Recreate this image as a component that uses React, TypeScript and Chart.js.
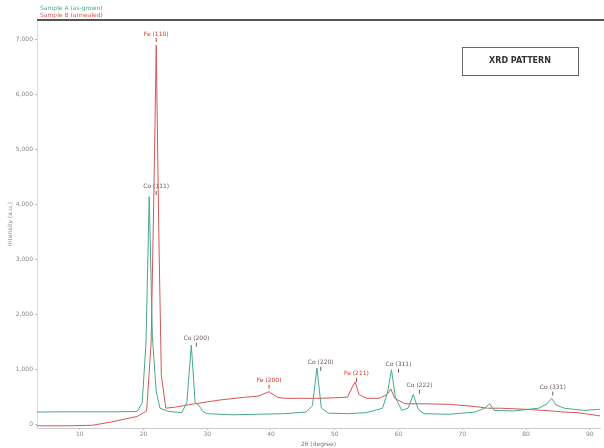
import React, { useEffect, useRef } from "react";
import { Chart, registerables } from "chart.js";

Chart.register(...registerables);

const seriesNames = ["Sample A (as-grown)", "Sample B (annealed)"];
const seriesColors = ["rgb(72,168,140)", "rgb(214,86,86)"];

const greenX = [3.3, 8, 12, 16, 19, 19.8, 20.4, 20.9, 21.4, 22, 22.6, 24, 26, 26.8, 27.5, 28.1, 28.7, 29.3, 30, 34, 38, 42, 45.5, 46.5, 47.2, 47.9, 49, 52, 55, 57.5, 58.3, 58.9, 59.5, 60.5, 61.5, 62.3, 63.1, 64, 68, 72, 73.5, 74.3, 75, 78, 82, 83.3, 84, 84.7, 86, 89, 91.6];
const greenY = [230, 235, 235, 235, 240, 400, 1500, 4150, 1600, 600, 300, 240, 220, 400, 1450, 400, 350, 240, 200, 180, 190, 200, 230, 350, 1030, 300, 210, 200, 220, 300, 600, 1000, 500, 260, 300, 550, 280, 200, 190, 230, 300, 380, 260, 250, 300, 380, 480, 360, 300, 260, 280];

const redX = [3.3, 8, 12, 15, 17, 19, 20.5, 21.2, 21.6, 22.0, 22.4, 22.8, 23.5, 25, 28, 32, 36, 38, 39.7, 41, 42, 44, 48, 50, 52, 52.6, 53.2, 53.8, 55, 57, 58.2, 58.8, 59.4, 61, 64, 68, 72, 74, 76, 80, 84, 86, 88, 91.6];
const redY = [-20, -20, -10, 50, 100, 150, 250, 1500, 4000, 6900, 3500, 900, 300, 320, 380, 450, 500, 520, 600, 500, 480, 480, 480, 490, 500, 650, 780, 550, 480, 480, 550, 650, 480, 380, 380, 370, 330, 300, 300, 280, 250, 230, 220, 160];

const xTicks = [10, 20, 30, 40, 50, 60, 70, 80, 90];
const yTicks = [0, 1000, 2000, 3000, 4000, 5000, 6000, 7000];

const peakText = ["Fe (110)", "Co (111)", "Co (200)", "Fe (200)", "Co (220)", "Fe (211)", "Co (311)", "Co (222)", "Co (331)"];
const peakX = [22.0, 22.0, 28.3, 39.7, 47.8, 53.4, 60.0, 63.3, 84.2];
const peakY = [7050, 4270, 1510, 745, 1070, 870, 1036, 655, 620];
const peakSeries = [1, 0, 0, 1, 0, 1, 0, 0, 0];

const boxText = "XRD PATTERN";

export default function App() {
  const ref = useRef<HTMLCanvasElement | null>(null);
  useEffect(() => {
    if (!ref.current) return;
    const overlay = {
      id: "overlay",
      afterDatasetsDraw(chart: any) {
        const { ctx, chartArea, scales } = chart;
        ctx.save();
        ctx.strokeStyle = "#555";
        ctx.lineWidth = 2;
        ctx.beginPath();
        ctx.moveTo(chartArea.left, chartArea.top);
        ctx.lineTo(chart.width, chartArea.top);
        ctx.stroke();
        ctx.font = "6px 'DejaVu Sans'";
        ctx.textBaseline = "middle";
        ctx.textAlign = "left";
        seriesNames.forEach((n, i) => {
          ctx.fillStyle = seriesColors[i];
          ctx.fillText(n, chartArea.left + 3, 8 + i * 7);
        });
        ctx.font = "6px 'DejaVu Sans'";
        ctx.textAlign = "center";
        ctx.textBaseline = "bottom";
        peakText.forEach((t, i) => {
          const px = scales.x.getPixelForValue(peakX[i]);
          const py = scales.y.getPixelForValue(peakY[i]);
          ctx.fillStyle = peakSeries[i] === 1 ? "rgb(200,60,40)" : "rgb(110,90,90)";
          ctx.fillText(t, px, py);
          ctx.strokeStyle = ctx.fillStyle;
          ctx.lineWidth = 1;
          ctx.beginPath();
          ctx.moveTo(px, py + 1);
          ctx.lineTo(px, py + 5);
          ctx.stroke();
        });
        const bx = chartArea.right - 138;
        const by = chartArea.top + 27;
        ctx.strokeStyle = "#666";
        ctx.lineWidth = 1;
        ctx.strokeRect(bx + 0.5, by + 0.5, 116, 28);
        ctx.fillStyle = "#333";
        ctx.font = "bold 8px 'DejaVu Sans'";
        ctx.textAlign = "center";
        ctx.textBaseline = "middle";
        ctx.fillText(boxText, bx + 58, by + 14);
        ctx.restore();
      },
    };
    const chart = new Chart(ref.current, {
      type: "line",
      data: {
        datasets: [
          {
            label: seriesNames[0],
            data: greenX.map((x, i) => ({ x, y: greenY[i] })),
            borderColor: seriesColors[0],
            borderWidth: 1,
            pointRadius: 0,
            tension: 0,
          },
          {
            label: seriesNames[1],
            data: redX.map((x, i) => ({ x, y: redY[i] })),
            borderColor: seriesColors[1],
            borderWidth: 1,
            pointRadius: 0,
            tension: 0,
          },
        ],
      },
      options: {
        animation: false,
        responsive: false,
        layout: { padding: { top: 20, right: 4, left: 0, bottom: 0 } },
        plugins: { legend: { display: false }, tooltip: { enabled: false } },
        scales: {
          x: {
            type: "linear",
            min: 3.3,
            max: 91.6,
            afterBuildTicks: (s: any) => {
              s.ticks = xTicks.map((v) => ({ value: v }));
            },
            afterFit: (s: any) => {
              s.height = 20;
            },
            grid: { drawOnChartArea: false, tickLength: 2, color: "#bbb" },
            border: { color: "#ccc" },
            ticks: { font: { size: 6, family: "DejaVu Sans" }, color: "#888", padding: 1, maxRotation: 0 },
            title: { display: true, text: "2θ (degree)", font: { size: 6, family: "DejaVu Sans" }, color: "#777", padding: 0 },
          },
          y: {
            type: "linear",
            min: -60,
            max: 7360,
            afterBuildTicks: (s: any) => {
              s.ticks = yTicks.map((v) => ({ value: v }));
            },
            afterFit: (s: any) => {
              s.width = 37;
            },
            grid: { drawOnChartArea: false, tickLength: 2, color: "#bbb" },
            border: { color: "#ddd" },
            ticks: { font: { size: 6, family: "DejaVu Sans" }, color: "#888", padding: 2 },
            title: { display: true, text: "Intensity (a.u.)", font: { size: 6, family: "DejaVu Sans" }, color: "#888", padding: { top: 7, bottom: 0 } },
          },
        },
      },
      plugins: [overlay],
    });
    return () => chart.destroy();
  }, []);
  return (
    <div style={{ position: "absolute", left: 0, top: 0, width: 604, height: 448, background: "#fff" }}>
      <canvas ref={ref} width={604} height={448} style={{ display: "block" }} />
    </div>
  );
}
